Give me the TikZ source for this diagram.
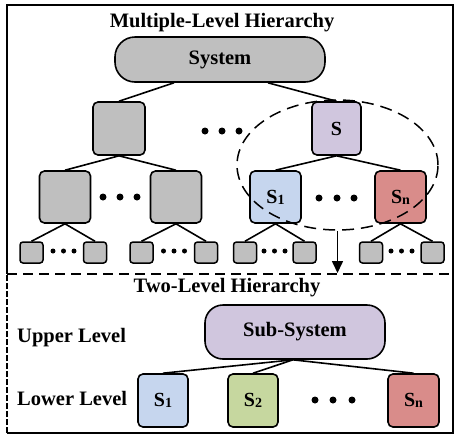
\documentclass[tikz,border=0pt]{standalone}
\usepackage{fontspec}
\setmainfont{Liberation Serif}
\usetikzlibrary{shapes.geometric,arrows.meta}
\definecolor{cgray}{HTML}{BFBFBF}
\definecolor{cpurple}{HTML}{D0C6DE}
\definecolor{cblue}{HTML}{C6D6EE}
\definecolor{cgreen}{HTML}{C6D79F}
\definecolor{cred}{HTML}{D98C8A}
\newcommand{\subs}[1]{\raisebox{-1pt}{\fontsize{14}{14}\selectfont #1}}
\begin{document}
\begin{tikzpicture}[x=1pt,y=-1pt,
  lbl/.style={font=\bfseries\fontsize{20.5}{23}\selectfont, inner sep=0pt},
  boxnode/.style={draw, line width=1.6pt, rounded corners=5pt, minimum width=51pt, minimum height=52pt, inner sep=0pt, font=\bfseries\fontsize{20}{23}\selectfont},
  smallbox/.style={draw, line width=1.5pt, rounded corners=3pt, fill=cgray, minimum width=23pt, minimum height=21pt, inner sep=0pt},
  pill/.style={draw, line width=1.6pt, rounded corners=20pt, inner sep=0pt, font=\bfseries\fontsize{20.5}{23}\selectfont},
  edge/.style={line width=1.6pt},
  dot/.style={circle, fill=black, inner sep=0pt, minimum size=7pt},
  sdot/.style={circle, fill=black, inner sep=0pt, minimum size=5pt},
  dline/.style={line width=1.4pt, dash pattern=on 10pt off 6pt}
]
\useasboundingbox (0,0) rectangle (463,437);
% frame
\coordinate (f1) at (7,274);
\coordinate (f2) at (7,5);
\coordinate (f3) at (453,5);
\coordinate (f4) at (453,433);
\coordinate (f5) at (7,433);
\draw[line width=1.8pt] (f1) -- (f2) -- (f3) -- (f4) -- (f5);
\draw[line width=1.8pt, dash pattern=on 6pt off 2pt] (f5) -- (f1);
\coordinate (dl) at (7,274);
\coordinate (dr) at (453,274);
\draw[dline] (dl) -- (dr);

% titles
\node[lbl] (t1) at (222,23) {Multiple-Level Hierarchy};
\node[lbl] (t2) at (227,288) {Two-Level Hierarchy};

% top tree
\node[pill, fill=cgray, minimum width=210pt, minimum height=45pt] (sys) at (220,59.5) {System};
\node[boxnode, fill=cgray, minimum width=52pt, minimum height=53pt] (la) at (119,128.5) {};
\node[boxnode, fill=cpurple, minimum width=49pt, minimum height=53pt] (s) at (336.5,128.5) {S};
\node[dot] (d1a) at (205,131) {};
\node[dot] (d1b) at (222,131) {};
\node[dot] (d1c) at (239,131) {};
\draw[edge] ([xshift=-46pt]sys.south) -- (la.north);
\draw[edge] ([xshift=48pt]sys.south) -- (s.north);

% level 2
\node[boxnode, fill=cgray] (ma) at (65,197) {};
\node[boxnode, fill=cgray] (mb) at (176,197) {};
\node[boxnode, fill=cblue] (s1) at (275.5,197) {S\subs{1}};
\node[boxnode, fill=cred] (sn) at (400.5,197) {S\subs{n}};
\node[dot] (d2a) at (103,197) {};
\node[dot] (d2b) at (120,197) {};
\node[dot] (d2c) at (137,197) {};
\node[dot] (d3a) at (319,198) {};
\node[dot] (d3b) at (337,198) {};
\node[dot] (d3c) at (354,198) {};
\draw[edge] (la.south) -- (ma.north);
\draw[edge] (la.south) -- (mb.north);
\draw[edge] (s.south) -- (s1.north);
\draw[edge] (s.south) -- (sn.north);

% level 3
\node[smallbox] (a1) at (31.5,252.5) {};
\node[smallbox] (a2) at (95,252.5) {};
\node[smallbox] (b1) at (141.5,252.5) {};
\node[smallbox] (b2) at (206,252.5) {};
\node[smallbox] (c1) at (245,252.5) {};
\node[smallbox] (c2) at (304.5,252.5) {};
\node[smallbox] (e1) at (371,252.5) {};
\node[smallbox] (e2) at (432.5,252.5) {};
\foreach \nm/\xx in {pa/53,pb/63.5,pc/74,qa/163.5,qb/174,qc/184.5,ra/264,rb/274.5,rc/285,ua/391,ub/401.5,uc/412}{
  \node[sdot] (\nm) at (\xx,251) {};
}
\draw[edge] (ma.south) -- (a1.north);
\draw[edge] (ma.south) -- (a2.north);
\draw[edge] (mb.south) -- (b1.north);
\draw[edge] (mb.south) -- (b2.north);
\draw[edge] (s1.south) -- (c1.north);
\draw[edge] (s1.south) -- (c2.north);
\draw[edge] (sn.south) -- (e1.north);
\draw[edge] (sn.south) -- (e2.north);

% ellipse and arrow
\node[ellipse, draw, line width=1.5pt, dash pattern=on 12pt off 7pt, minimum width=201pt, minimum height=130pt, inner sep=0pt] (grp) at (337.5,165) {};
\coordinate (arrend) at (337.5,273);
\draw[line width=1.6pt, -{Triangle[length=12pt,width=11pt]}] (grp.south) -- (arrend);

% bottom part
\node[pill, fill=cpurple, minimum width=180pt, minimum height=54pt, rounded corners=18pt] (sub) at (295,332) {Sub-System};
\node[lbl, anchor=west] (ul) at (17,338) {Upper Level};
\node[lbl, anchor=west] (ll) at (17,398) {Lower Level};
\node[boxnode, fill=cblue, minimum width=50pt, minimum height=53pt] (b1x) at (163,400.5) {S\subs{1}};
\node[boxnode, fill=cgreen, minimum width=50pt, minimum height=53pt] (b2x) at (253,400.5) {S\subs{2}};
\node[boxnode, fill=cred, minimum width=51pt, minimum height=53pt] (bnx) at (413.5,400.5) {S\subs{n}};
\node[dot] (d4a) at (315,400) {};
\node[dot] (d4b) at (333,400) {};
\node[dot] (d4c) at (352,400) {};
\draw[edge] ([xshift=-2pt]sub.south) -- (b1x.north);
\draw[edge] ([xshift=-2pt]sub.south) -- (b2x.north);
\draw[edge] ([xshift=-2pt]sub.south) -- (bnx.north);
\end{tikzpicture}
\end{document}
